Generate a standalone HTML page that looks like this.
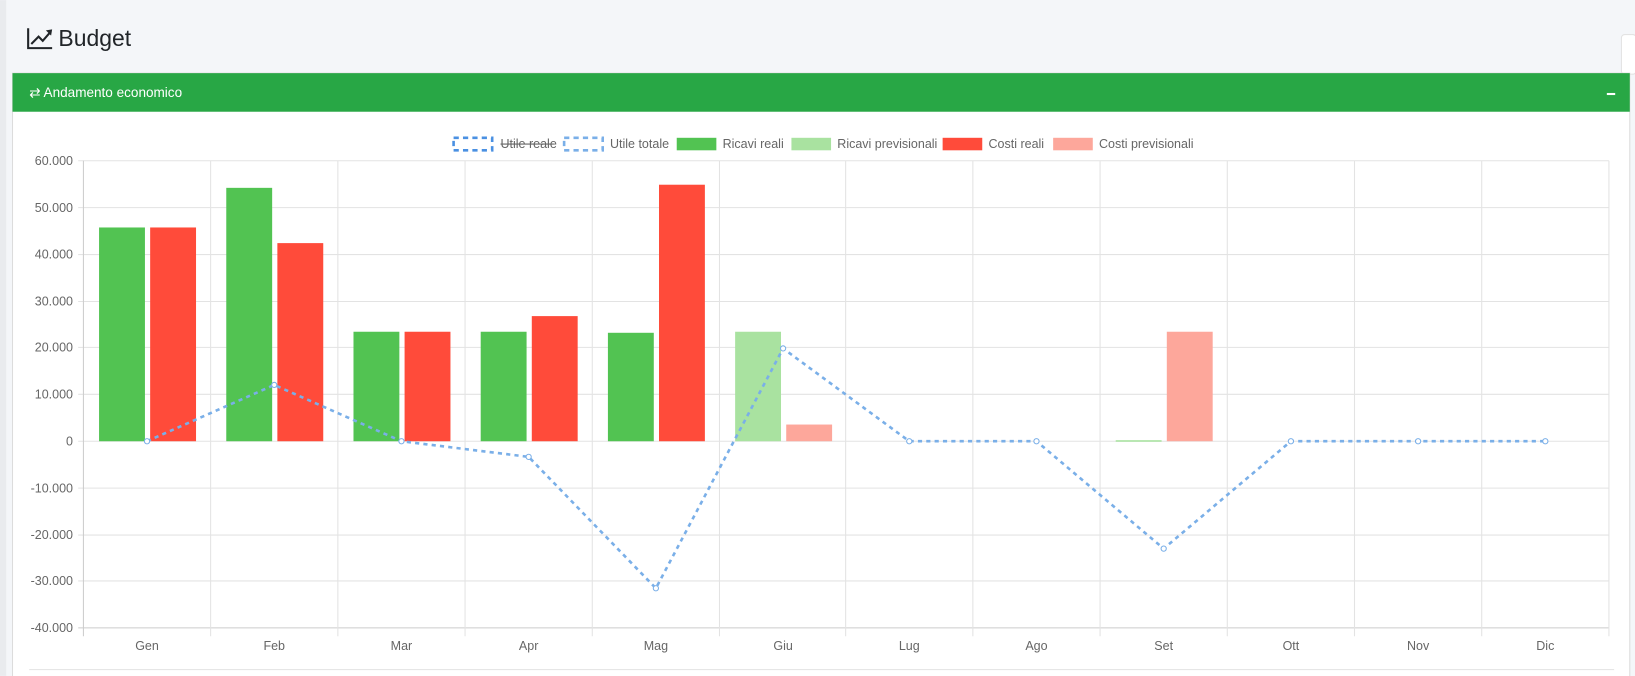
<!DOCTYPE html>
<html><head><meta charset="utf-8"><style>
html,body{margin:0;padding:0;background:#f4f6f9;width:1635px;height:676px;overflow:hidden}
svg{display:block}
text{font-family:"Liberation Sans",sans-serif}
</style></head><body>
<svg width="1635" height="676" viewBox="0 0 1568 648" xmlns="http://www.w3.org/2000/svg">
<rect width="1568" height="648" fill="#f4f6f9"/>
<rect x="0" y="0" width="6" height="648" fill="#e9ebee"/>
<!-- title -->
<g stroke="#212529" stroke-width="2" fill="none"><path d="M27 27 V46 H50"/><path d="M30 42 L37 35 L41 39 L48 31"/></g>
<path d="M44 29 L50 28 L49 34 Z" fill="#212529"/>
<text x="56" y="44" font-size="22" fill="#212529">Budget</text>
<rect x="1555" y="33" width="14" height="38" rx="3" fill="#fff" stroke="#e3e3e3"/>
<!-- card -->
<rect x="12" y="70" width="1551" height="590" fill="#fff" stroke="#dcdcdc"/>
<rect x="12" y="70" width="1551" height="37" fill="#28a745"/>
<text x="28" y="93" font-size="13" fill="#fff">⇄ Andamento economico</text>
<rect x="1541" y="89" width="8" height="2" fill="#fff"/>
<!-- legend -->
<g font-size="12" fill="#666">
<rect x="435" y="132" width="37" height="12" fill="none" stroke="#4a90e2" stroke-width="2.5" stroke-dasharray="5 4"/>
<text x="480" y="142">Utile reale</text><line x1="480" y1="138" x2="531" y2="138" stroke="#666" stroke-width="1"/>
<rect x="541" y="132" width="37" height="12" fill="none" stroke="#7aafe8" stroke-width="2.5" stroke-dasharray="5 4"/>
<text x="585" y="142">Utile totale</text>
<rect x="649" y="132" width="38" height="12" fill="#52c352"/><text x="693" y="142">Ricavi reali</text>
<rect x="759" y="132" width="38" height="12" fill="#a9e2a0"/><text x="803" y="142">Ricavi previsionali</text>
<rect x="904" y="132" width="38" height="12" fill="#ff4b3a"/><text x="948" y="142">Costi reali</text>
<rect x="1010" y="132" width="38" height="12" fill="#fda79b"/><text x="1054" y="142">Costi previsionali</text>
</g>
<!-- grid -->
<g stroke="#e3e3e3" stroke-width="1">
<line x1="75" y1="154" x2="1543" y2="154"/><line x1="75" y1="199" x2="1543" y2="199"/>
<line x1="75" y1="244" x2="1543" y2="244"/><line x1="75" y1="289" x2="1543" y2="289"/>
<line x1="75" y1="333" x2="1543" y2="333"/><line x1="75" y1="378" x2="1543" y2="378"/>
<line x1="75" y1="423" x2="1543" y2="423"/><line x1="75" y1="468" x2="1543" y2="468"/>
<line x1="75" y1="513" x2="1543" y2="513"/><line x1="75" y1="557" x2="1543" y2="557"/>
<line x1="75" y1="602" x2="1543" y2="602" stroke="#ccc"/>
<line x1="80" y1="154" x2="80" y2="610" stroke="#ccc"/><line x1="202" y1="154" x2="202" y2="610"/><line x1="324" y1="154" x2="324" y2="610"/>
<line x1="446" y1="154" x2="446" y2="610"/><line x1="568" y1="154" x2="568" y2="610"/><line x1="690" y1="154" x2="690" y2="610"/>
<line x1="811" y1="154" x2="811" y2="610"/><line x1="933" y1="154" x2="933" y2="610"/><line x1="1055" y1="154" x2="1055" y2="610"/>
<line x1="1177" y1="154" x2="1177" y2="610"/><line x1="1299" y1="154" x2="1299" y2="610"/><line x1="1421" y1="154" x2="1421" y2="610"/>
<line x1="1543" y1="154" x2="1543" y2="610"/>
</g>
<g font-size="12" fill="#666" text-anchor="end">
<text x="70" y="158">60.000</text><text x="70" y="203">50.000</text><text x="70" y="248">40.000</text>
<text x="70" y="293">30.000</text><text x="70" y="337">20.000</text><text x="70" y="382">10.000</text>
<text x="70" y="427">0</text><text x="70" y="472">-10.000</text><text x="70" y="517">-20.000</text>
<text x="70" y="561">-30.000</text><text x="70" y="606">-40.000</text>
</g>
<g font-size="12" fill="#666" text-anchor="middle">
<text x="141" y="623">Gen</text><text x="263" y="623">Feb</text><text x="385" y="623">Mar</text><text x="507" y="623">Apr</text>
<text x="629" y="623">Mag</text><text x="751" y="623">Giu</text><text x="872" y="623">Lug</text><text x="994" y="623">Ago</text>
<text x="1116" y="623">Set</text><text x="1238" y="623">Ott</text><text x="1360" y="623">Nov</text><text x="1482" y="623">Dic</text>
</g>
<!-- bars -->
<g fill="#52c352">
<rect x="95" y="218" width="44" height="205"/><rect x="217" y="180" width="44" height="243"/>
<rect x="339" y="318" width="44" height="105"/><rect x="461" y="318" width="44" height="105"/>
<rect x="583" y="319" width="44" height="104"/>
</g>
<g fill="#ff4b3a">
<rect x="144" y="218" width="44" height="205"/><rect x="266" y="233" width="44" height="190"/>
<rect x="388" y="318" width="44" height="105"/><rect x="510" y="303" width="44" height="120"/>
<rect x="632" y="177" width="44" height="246"/>
</g>
<rect x="705" y="318" width="44" height="105" fill="#a9e2a0"/>
<rect x="754" y="407" width="44" height="16" fill="#fda79b"/>
<rect x="1070" y="422" width="44" height="1.5" fill="#a9e2a0"/>
<rect x="1119" y="318" width="44" height="105" fill="#fda79b"/>
<!-- line -->
<polyline fill="none" stroke="#7aafe8" stroke-width="2.5" stroke-dasharray="4 4" points="141,423 263,369 385,423 507,438 629,564 751,334 872,423 994,423 1116,526 1238,423 1360,423 1482,423"/>
<g fill="#fff" stroke="#7aafe8" stroke-width="1">
<circle cx="141" cy="423" r="2.5"/><circle cx="263" cy="369" r="2.5"/><circle cx="385" cy="423" r="2.5"/>
<circle cx="507" cy="438" r="2.5"/><circle cx="629" cy="564" r="2.5"/><circle cx="751" cy="334" r="2.5"/>
<circle cx="872" cy="423" r="2.5"/><circle cx="994" cy="423" r="2.5"/><circle cx="1116" cy="526" r="2.5"/>
<circle cx="1238" cy="423" r="2.5"/><circle cx="1360" cy="423" r="2.5"/><circle cx="1482" cy="423" r="2.5"/>
</g>
<line x1="28" y1="642" x2="1548" y2="642" stroke="#e3e3e3"/>
</svg>
</body></html>
